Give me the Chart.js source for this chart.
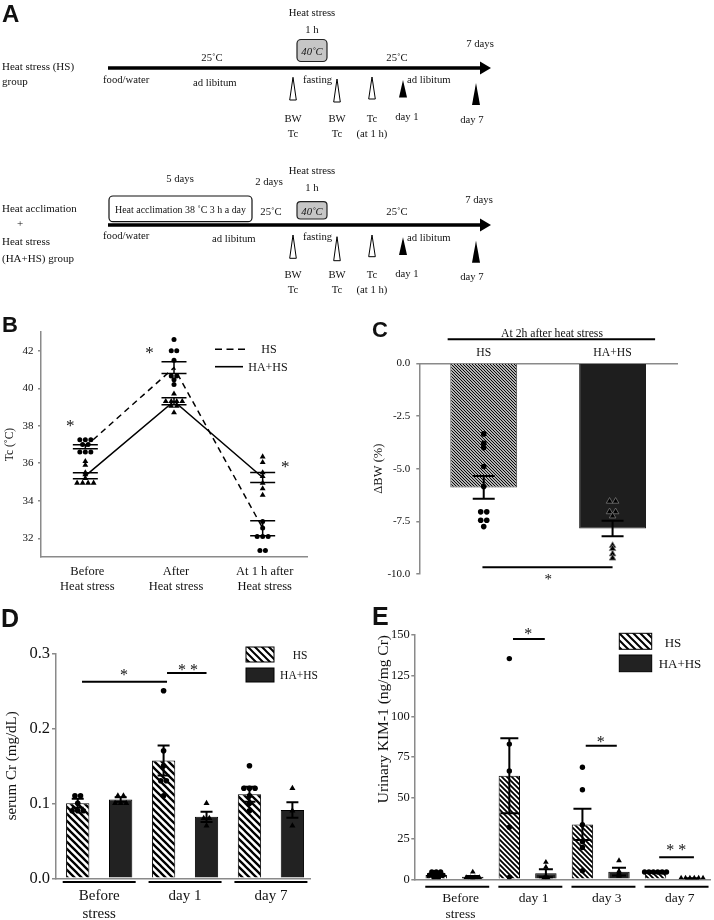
<!DOCTYPE html>
<html><head><meta charset="utf-8">
<script src="https://cdn.jsdelivr.net/npm/chart.js@4.4.1/dist/chart.umd.min.js"></script>
<style>
html,body{margin:0;padding:0;background:#fff}
body{width:714px;height:920px;position:relative;overflow:hidden}
canvas{position:absolute}
#ov{position:absolute;left:0;top:0;z-index:2;pointer-events:none}
#ov text{fill:#111}
</style></head><body>
<canvas id="cB" width="360" height="300" style="left:0;top:300px"></canvas>
<canvas id="cC" width="354" height="300" style="left:360px;top:300px"></canvas>
<canvas id="cD" width="360" height="320" style="left:0;top:600px"></canvas>
<canvas id="cE" width="354" height="320" style="left:360px;top:600px"></canvas>
<svg id="ov" width="714" height="920" xmlns="http://www.w3.org/2000/svg" font-family="'Liberation Serif', 'Times New Roman', serif" font-size="10.7">
<defs>
<pattern id="hD" width="7" height="7" patternUnits="userSpaceOnUse"><rect width="7" height="7" fill="#fff"/><path d="M-1,-1 L8,8 M-1,6 L1,8 M6,-1 L8,1" stroke="#000" stroke-width="2"/></pattern>
</defs>
<g font-family="'Liberation Sans', Arial, sans-serif" font-weight="bold">
<text x="2" y="22" font-size="24">A</text>
<text x="2" y="332" font-size="22">B</text>
<text x="372" y="337" font-size="22">C</text>
<text x="1" y="627" font-size="25">D</text>
<text x="372" y="625" font-size="25">E</text>
</g>
<g>
<text x="2" y="70" font-size="11">Heat stress (HS)</text>
<text x="2" y="85" font-size="11">group</text>
<text x="312" y="16" text-anchor="middle">Heat stress</text>
<text x="312" y="33" text-anchor="middle">1 h</text>
<rect x="297" y="39.5" width="30" height="22" rx="4" fill="#c6c6c6" stroke="#222" stroke-width="1.2"/>
<text x="312" y="55" text-anchor="middle" font-style="italic">40˚C</text>
<text x="212" y="61" text-anchor="middle">25˚C</text>
<text x="397" y="61" text-anchor="middle">25˚C</text>
<text x="480" y="47" text-anchor="middle">7 days</text>
<line x1="108" y1="68" x2="482" y2="68" stroke="#000" stroke-width="3.5"/>
<polygon points="480,61.5 491,68 480,74.5" fill="#000"/>
<text x="103" y="83">food/water</text>
<text x="193" y="85.5">ad libitum</text>
<text x="303" y="82.5">fasting</text>
<text x="407" y="82.5">ad libitum</text>
<polygon points="293,77.3 289.7,100 296.3,100" fill="#fff" stroke="#000" stroke-width="1"/>
<polygon points="337,79 333.7,102 340.3,102" fill="#fff" stroke="#000" stroke-width="1"/>
<polygon points="372,77 368.7,99 375.3,99" fill="#fff" stroke="#000" stroke-width="1"/>
<polygon points="403,80 399,97.5 407,97.5" fill="#000"/>
<polygon points="476,83 472,105 480,105" fill="#000"/>
<text x="293" y="121.7" text-anchor="middle">BW</text>
<text x="293" y="136.7" text-anchor="middle">Tc</text>
<text x="337" y="121.7" text-anchor="middle">BW</text>
<text x="337" y="136.7" text-anchor="middle">Tc</text>
<text x="372" y="121.7" text-anchor="middle">Tc</text>
<text x="372" y="136.7" text-anchor="middle">(at 1 h)</text>
<text x="407" y="120" text-anchor="middle">day 1</text>
<text x="472" y="123" text-anchor="middle">day 7</text>
</g>
<g>
<text x="2" y="211.7" font-size="11">Heat acclimation</text>
<text x="20" y="226.7" font-size="11" text-anchor="middle">+</text>
<text x="2" y="245" font-size="11">Heat stress</text>
<text x="2" y="261.7" font-size="11">(HA+HS) group</text>
<text x="180" y="181.7" text-anchor="middle">5 days</text>
<text x="269" y="185" text-anchor="middle">2 days</text>
<text x="312" y="174" text-anchor="middle">Heat stress</text>
<text x="312" y="190.7" text-anchor="middle">1 h</text>
<rect x="109" y="196" width="143" height="25.7" rx="4" fill="#fff" stroke="#111" stroke-width="1.2"/>
<text x="115" y="213.3" textLength="131" lengthAdjust="spacingAndGlyphs">Heat acclimation 38 ˚C 3 h a day</text>
<text x="271" y="215" text-anchor="middle">25˚C</text>
<rect x="297" y="201.7" width="30" height="17.3" rx="3.5" fill="#c6c6c6" stroke="#222" stroke-width="1.2"/>
<text x="312" y="214.5" text-anchor="middle" font-style="italic">40˚C</text>
<text x="397" y="215" text-anchor="middle">25˚C</text>
<text x="479" y="203.3" text-anchor="middle">7 days</text>
<line x1="108" y1="225" x2="482" y2="225" stroke="#000" stroke-width="3.5"/>
<polygon points="480,218.5 491,225 480,231.5" fill="#000"/>
<text x="103" y="239">food/water</text>
<text x="212" y="241.7">ad libitum</text>
<text x="303" y="240">fasting</text>
<text x="407" y="240.7">ad libitum</text>
<polygon points="293,235 289.7,258.3 296.3,258.3" fill="#fff" stroke="#000" stroke-width="1"/>
<polygon points="337,236.7 333.7,260.7 340.3,260.7" fill="#fff" stroke="#000" stroke-width="1"/>
<polygon points="372,235 368.7,256.7 375.3,256.7" fill="#fff" stroke="#000" stroke-width="1"/>
<polygon points="403,237.3 399,255 407,255" fill="#000"/>
<polygon points="476,240.7 472,262.7 480,262.7" fill="#000"/>
<text x="293" y="278.3" text-anchor="middle">BW</text>
<text x="293" y="293.3" text-anchor="middle">Tc</text>
<text x="337" y="278.3" text-anchor="middle">BW</text>
<text x="337" y="293.3" text-anchor="middle">Tc</text>
<text x="372" y="278.3" text-anchor="middle">Tc</text>
<text x="372" y="293.3" text-anchor="middle">(at 1 h)</text>
<text x="407" y="276.7" text-anchor="middle">day 1</text>
<text x="472" y="280" text-anchor="middle">day 7</text>
</g>
<line x1="215" y1="349.3" x2="245" y2="349.3" stroke="#000" stroke-width="1.6" stroke-dasharray="7 4.5"/>
<text x="269" y="353.3" text-anchor="middle" font-size="12">HS</text>
<line x1="215" y1="366.7" x2="243" y2="366.7" stroke="#000" stroke-width="1.6"/>
<text x="268" y="371" text-anchor="middle" font-size="12">HA+HS</text>
<rect x="246" y="647" width="28" height="15" fill="url(#hD)" stroke="#000" stroke-width="1"/>
<text x="300" y="659" text-anchor="middle" font-size="11.5">HS</text>
<rect x="246" y="668" width="28" height="14" fill="#222" stroke="#000" stroke-width="1"/>
<text x="299" y="679" text-anchor="middle" font-size="11.5">HA+HS</text>
<rect x="619.3" y="633.3" width="32.4" height="16" fill="url(#hD)" stroke="#000" stroke-width="1"/>
<text x="673" y="647" text-anchor="middle" font-size="13">HS</text>
<rect x="619.3" y="655" width="32.4" height="16.7" fill="#222" stroke="#000" stroke-width="1"/>
<text x="680" y="667.5" text-anchor="middle" font-size="13">HA+HS</text>
</svg>
<script>
// ---------------- DATA ----------------
// Panel B: core temperature (°C)
const catsB = [['Before', 'Heat stress'], ['After', 'Heat stress'], ['At 1 h after', 'Heat stress']];
const ticksB = [32, 34, 36, 38, 40, 42];
const hsMeanB = [36.88, 41.10, 32.54];
const hsSemB = [0.11, 0.31, 0.40];
const haMeanB = [35.33, 39.31, 35.24];
const haSemB = [0.16, 0.19, 0.27];
const hsPtsB = [
  [37.25, 37.25, 37.25, 37.0, 37.0, 36.6, 36.6, 36.6],
  [42.6, 42.0, 42.0, 41.5, 40.65, 40.65, 40.45, 40.2],
  [32.9, 32.55, 32.1, 32.1, 32.1, 31.35, 31.35]
];
const haPtsB = [
  [36.1, 35.9, 35.5, 35.4, 35.2, 34.95, 34.95, 34.95, 34.95],
  [39.7, 39.3, 39.3, 39.3, 39.3, 39.05, 39.05, 38.7],
  [36.35, 36.05, 35.5, 35.3, 34.95, 34.65, 34.3]
];
const starsB = [{x: -0.17, y: 38.1, text: '*'}, {x: 0.725, y: 42.03, text: '*'}, {x: 2.255, y: 35.92, text: '*'}];

// Panel C: ΔBW (%)
const catsC = ['HS', 'HA+HS'];
const ticksC = [-10, -7.5, -5, -2.5, 0];
const meanC = [-5.89, -7.84];
const semC = [0.54, 0.37];
const hsPtsC = [-3.35, -3.8, -4.0, -4.9, -5.85, -7.05, -7.05, -7.45, -7.45, -7.75];
const haPtsC = [-6.55, -6.55, -7.05, -7.05, -7.25, -8.65, -8.8, -9.05, -9.25];

// Panel D: serum Cr (mg/dL)
const catsD = [['Before', 'stress'], 'day 1', 'day 7'];
const ticksD = [0, 0.1, 0.2, 0.3];
const hsMeanD = [0.100, 0.157, 0.112];
const hsSemD = [0.006, 0.020, 0.010];
const haMeanD = [0.105, 0.082, 0.091];
const haSemD = [0.003, 0.0068, 0.0104];
const hsPtsD = [
  [0.11, 0.11, 0.10, 0.09, 0.09, 0.09],
  [0.25, 0.17, 0.15, 0.13, 0.13, 0.11],
  [0.15, 0.12, 0.12, 0.12, 0.11, 0.10, 0.09]
];
const haPtsD = [
  [0.11, 0.11, 0.10, 0.10, 0.10],
  [0.10, 0.08, 0.08, 0.07],
  [0.12, 0.09, 0.07]
];

// Panel E: urinary KIM-1 (ng/mg Cr)
const catsE = [['Before', 'stress'], 'day 1', 'day 3', 'day 7'];
const ticksE = [0, 25, 50, 75, 100, 125, 150];
const hsMeanE = [2.6, 63.6, 33.7, 4.3];
const hsSemE = [0.6, 23.0, 9.6, 0.3];
const haMeanE = [1.5, 3.7, 4.7, 0.6];
const haSemE = [0.6, 2.4, 2.4, 0.1];
const hsPtsE = [
  [4.5, 4.5, 4.5, 2.5, 2.5, 2.5, 2.5, 1, 1],
  [135.5, 83, 66.5, 32, 1.2],
  [68.8, 55, 33.5, 23, 19.5, 5.3],
  [4.5, 4.5, 4.5, 4.5, 4.5, 4.5]
];
const haPtsE = [
  [4.5, 1, 1, 1, 1, 0.5],
  [10.5, 7.5, 2, 1, 0.5, 0.5],
  [11.5, 5, 4, 3, 2.5, 2],
  [0.8, 0.8, 0.8, 0.8, 0.8, 0.8]
];

// ---------------- HELPERS ----------------
const FONT = '"Liberation Serif", "Times New Roman", serif';
Chart.defaults.font.family = FONT;
Chart.defaults.color = '#111';
const AX = '#8a8a8a';

function swarm(vals, center, step) {
  const bins = new Map();
  vals.forEach(v => { const k = v.toFixed(4); if (!bins.has(k)) bins.set(k, []); bins.get(k).push(v); });
  const out = [];
  bins.forEach(list => list.forEach((v, k) => out.push({x: center + (k - (list.length - 1) / 2) * step, y: v})));
  return out;
}
function hatch(ctx, p, lw) {
  const c = document.createElement('canvas'); c.width = c.height = p;
  const g = c.getContext('2d');
  g.fillStyle = '#fff'; g.fillRect(0, 0, p, p);
  g.strokeStyle = '#000'; g.lineWidth = lw;
  g.beginPath();
  g.moveTo(-1, -1); g.lineTo(p + 1, p + 1);
  g.moveTo(-1, p - 1); g.lineTo(1, p + 1);
  g.moveTo(p - 1, -1); g.lineTo(p + 1, 1);
  g.stroke();
  return ctx.createPattern(c, 'repeat');
}
const overlay = {
  id: 'overlay',
  afterDatasetsDraw(chart, args, o) {
    const {ctx, chartArea} = chart; const x = chart.scales.x, y = chart.scales.y;
    ctx.save(); ctx.strokeStyle = '#000'; ctx.fillStyle = '#111';
    (o.err || []).forEach(e => {
      ctx.lineWidth = e.lw;
      e.mean.forEach((m, i) => {
        const px = x.getPixelForValue(e.xs[i]);
        const a = y.getPixelForValue(m + e.sem[i]), b = y.getPixelForValue(m - e.sem[i]);
        ctx.beginPath();
        ctx.moveTo(px, a); ctx.lineTo(px, b);
        ctx.moveTo(px - e.cap, a); ctx.lineTo(px + e.cap, a);
        ctx.moveTo(px - e.cap, b); ctx.lineTo(px + e.cap, b);
        ctx.stroke();
      });
    });
    (o.lines || []).forEach(l => {
      ctx.lineWidth = l.lw || 2;
      const py = l.dy !== undefined ? chartArea.bottom + l.dy : y.getPixelForValue(l.y);
      ctx.beginPath(); ctx.moveTo(x.getPixelForValue(l.x0), py); ctx.lineTo(x.getPixelForValue(l.x1), py); ctx.stroke();
    });
    (o.texts || []).forEach(t => {
      ctx.font = t.font || ('16px ' + FONT); ctx.textAlign = 'center'; ctx.textBaseline = 'alphabetic';
      const m = ctx.measureText(t.text);
      const px = x.getPixelForValue(t.x), py = y.getPixelForValue(t.y);
      ctx.fillText(t.text, px, py + (m.actualBoundingBoxAscent - m.actualBoundingBoxDescent) / 2);
    });
    ctx.restore();
  }
};
function yAxis(o) {
  return {
    min: o.min, max: o.max,
    afterBuildTicks: a => { a.ticks = o.ticks.map(v => ({value: v})); },
    afterFit: s => { s.width = o.width; },
    grid: {drawOnChartArea: false, drawTicks: true, tickLength: o.tl, color: AX, lineWidth: 1.5},
    border: {display: true, color: AX, width: 1.5},
    ticks: {font: {size: o.fs}, color: '#111', padding: o.pad, callback: o.cb || (v => v)},
    title: {display: true, text: o.title, align: o.talign || 'center', font: {size: o.tfs}, color: '#111', padding: {top: o.tpad, bottom: 0}}
  };
}
function xAxis(o) {
  return {
    type: 'linear', offset: false, min: o.min, max: o.max, position: o.pos || 'bottom',
    afterBuildTicks: a => { a.ticks = o.ticks.map(v => ({value: v})); },
    afterFit: s => { s.height = o.height; },
    grid: {display: false, drawTicks: false, offset: false},
    border: {display: true, color: AX, width: 1.5},
    ticks: {font: {size: o.fs, lineHeight: 1.2}, color: '#111', padding: o.pad, maxRotation: 0, autoSkip: false,
      labelOffset: o.lo || 0, callback: (v, i) => o.labels[i]}
  };
}
const base = {responsive: false, animation: false, events: []};

// ---------------- PANEL B ----------------
new Chart(document.getElementById('cB'), {
  type: 'scatter',
  data: {datasets: [
    {type: 'line', data: hsMeanB.map((m, i) => ({x: i, y: m})), borderColor: '#000', borderWidth: 1.5, borderDash: [6, 4.5], pointRadius: 0, order: 3},
    {type: 'line', data: haMeanB.map((m, i) => ({x: i, y: m})), borderColor: '#000', borderWidth: 1.5, pointRadius: 0, order: 3},
    {data: hsPtsB.flatMap((v, i) => swarm(v, i, 0.062)), pointStyle: 'circle', pointRadius: 2.5, backgroundColor: '#000', borderWidth: 0, order: 1},
    {data: haPtsB.flatMap((v, i) => swarm(v, i, 0.062)), pointStyle: 'triangle', pointRadius: 3.4, backgroundColor: '#000', borderWidth: 0, order: 2}
  ]},
  options: {...base,
    layout: {padding: {left: 0, top: 32, right: 53, bottom: 0}},
    plugins: {legend: {display: false}, tooltip: {enabled: false},
      overlay: {
        err: [{xs: [0, 1, 2], mean: hsMeanB, sem: hsSemB, cap: 12.5, lw: 1.5}, {xs: [0, 1, 2], mean: haMeanB, sem: haSemB, cap: 12.5, lw: 1.5}],
        texts: starsB.map(s => ({...s, font: '17px ' + FONT}))
      }},
    scales: {
      x: xAxis({min: -0.5, max: 2.5, ticks: [0, 1, 2], labels: catsB, height: 43, fs: 12.5, pad: 7.5, lo: 2}),
      y: yAxis({min: 31, max: 43, ticks: ticksB, width: 41, tl: 3, fs: 11, pad: 4.5, title: 'Tc (˚C)', tfs: 11.5, tpad: 3})
    }
  },
  plugins: [overlay]
});

// ---------------- PANEL C ----------------
(function () {
  const cv = document.getElementById('cC');
  const pat = hatch(cv.getContext('2d'), 3, 1.15);
  new Chart(cv, {
    type: 'bar',
    data: {datasets: [
      {type: 'bar', data: meanC.map((m, i) => ({x: i, y: m})), backgroundColor: [pat, '#1e1e1e'], borderColor: ['#444', '#1e1e1e'], borderWidth: 1, borderSkipped: 'start', barPercentage: 0.519, categoryPercentage: 1, order: 3},
      {type: 'scatter', data: swarm(hsPtsC, 0, 0.047), pointStyle: 'circle', pointRadius: 2.8, backgroundColor: '#000', borderWidth: 0, order: 1},
      {type: 'scatter', data: swarm(haPtsC, 1, 0.047), pointStyle: 'triangle', pointRadius: 3.8, backgroundColor: '#000', borderColor: '#777', borderWidth: 0.8, order: 1}
    ]},
    options: {...base,
      layout: {padding: {left: 0, top: 0, right: 37, bottom: 26}},
      plugins: {legend: {display: false}, tooltip: {enabled: false},
        overlay: {
          err: [{xs: [0, 1], mean: meanC, sem: semC, cap: 11, lw: 2}],
          lines: [{x0: -0.28, x1: 1.33, y: 1.14, lw: 2}, {x0: -0.01, x1: 1.0, y: -9.68, lw: 2}],
          texts: [{x: 0.53, y: 1.44, text: 'At 2h after heat stress', font: '11.7px ' + FONT}, {x: 0.5, y: -10.14, text: '*', font: '15px ' + FONT}]
        }},
      scales: {
        x: xAxis({min: -0.5, max: 1.5, pos: 'top', ticks: [0, 1], labels: catsC, height: 63.3, fs: 11.7, pad: 3.3}),
        y: yAxis({min: -10, max: 0, ticks: ticksC, width: 59.3, tl: 3, fs: 11, pad: 6, cb: v => v.toFixed(1), title: 'ΔBW (%)', tfs: 12.5, tpad: 11})
      }
    },
    plugins: [overlay]
  });
})();

// ---------------- PANEL D ----------------
(function () {
  const cv = document.getElementById('cD');
  const pat = hatch(cv.getContext('2d'), 7, 2.3);
  const bars = [], cols = [];
  hsMeanD.forEach((m, i) => { bars.push({x: 2 * i, y: m}); cols.push(pat); bars.push({x: 2 * i + 1, y: haMeanD[i]}); cols.push('#222'); });
  new Chart(cv, {
    type: 'bar',
    data: {datasets: [
      {type: 'bar', data: bars, backgroundColor: cols, borderColor: '#000', borderWidth: 1, barPercentage: 0.543, categoryPercentage: 1, order: 3},
      {type: 'scatter', data: hsPtsD.flatMap((v, i) => swarm(v, 2 * i, 0.13)), pointStyle: 'circle', pointRadius: 2.8, backgroundColor: '#000', borderWidth: 0, order: 1},
      {type: 'scatter', data: haPtsD.flatMap((v, i) => swarm(v, 2 * i + 1, 0.13)), pointStyle: 'triangle', pointRadius: 3.5, backgroundColor: '#000', borderWidth: 0, order: 1}
    ]},
    options: {...base,
      layout: {padding: {left: 0, top: 53.3, right: 50, bottom: 0}},
      plugins: {legend: {display: false}, tooltip: {enabled: false},
        overlay: {
          err: [{xs: [0, 2, 4], mean: hsMeanD, sem: hsSemD, cap: 6, lw: 2}, {xs: [1, 3, 5], mean: haMeanD, sem: haSemD, cap: 6, lw: 2}],
          lines: [{x0: 0.1, x1: 2.08, y: 0.262}, {x0: 2.08, x1: 3.0, y: 0.2737},
            {x0: -0.35, x1: 1.35, dy: 3.6}, {x0: 1.65, x1: 3.35, dy: 3.6}, {x0: 3.65, x1: 5.35, dy: 3.6}],
          texts: [{x: 1.08, y: 0.275, text: '*'}, {x: 2.57, y: 0.2817, text: '* *'}]
        }},
      scales: {
        x: xAxis({min: -0.506, max: 5.41, ticks: [0.5, 2.5, 4.5], labels: catsD, height: 41.7, fs: 15, pad: 8.5}),
        y: yAxis({min: 0, max: 0.3, ticks: ticksD, width: 56, tl: 4, fs: 16.5, pad: 2, cb: v => v.toFixed(1), title: 'serum Cr (mg/dL)', tfs: 15, tpad: 3})
      }
    },
    plugins: [overlay]
  });
})();

// ---------------- PANEL E ----------------
(function () {
  const cv = document.getElementById('cE');
  const pat = hatch(cv.getContext('2d'), 5, 1.8);
  const bars = [], cols = [];
  hsMeanE.forEach((m, i) => { bars.push({x: 2 * i, y: m}); cols.push(pat); bars.push({x: 2 * i + 1, y: haMeanE[i]}); cols.push('#222'); });
  new Chart(cv, {
    type: 'bar',
    data: {datasets: [
      {type: 'bar', data: bars, backgroundColor: cols, borderColor: '#000', borderWidth: 1, barPercentage: 0.585, categoryPercentage: 1, order: 3},
      {type: 'scatter', data: hsPtsE.flatMap((v, i) => swarm(v, 2 * i, 0.12)), pointStyle: 'circle', pointRadius: 2.7, backgroundColor: '#000', borderWidth: 0, order: 1},
      {type: 'scatter', data: haPtsE.flatMap((v, i) => swarm(v, 2 * i + 1, 0.12)), pointStyle: 'triangle', pointRadius: 3.3, backgroundColor: '#000', borderWidth: 0, order: 1}
    ]},
    options: {...base,
      layout: {padding: {left: 0, top: 35, right: 0, bottom: 0}},
      plugins: {legend: {display: false}, tooltip: {enabled: false},
        overlay: {
          err: [{xs: [0, 2, 4, 6], mean: hsMeanE, sem: hsSemE, cap: 9, lw: 2}, {xs: [1, 3, 5, 7], mean: haMeanE, sem: haSemE, cap: 7, lw: 2}],
          lines: [{x0: 2.1, x1: 2.97, y: 147.6}, {x0: 4.09, x1: 4.94, y: 82}, {x0: 6.1, x1: 7.05, y: 13.5},
            {x0: -0.3, x1: 1.45, dy: 7.4}, {x0: 1.7, x1: 3.45, dy: 7.4}, {x0: 3.7, x1: 5.45, dy: 7.4}, {x0: 5.7, x1: 7.45, dy: 7.4}],
          texts: [{x: 2.52, y: 152.3, text: '*'}, {x: 4.5, y: 85.7, text: '*'}, {x: 6.57, y: 19.7, text: '* *'}]
        }},
      scales: {
        x: xAxis({min: -0.6, max: 7.49, ticks: [0.5, 2.5, 4.5, 6.5], labels: catsE, height: 40.7, fs: 13.5, pad: 11, lo: 6}),
        y: yAxis({min: 0, max: 150, ticks: ticksE, width: 54.3, tl: 3, fs: 12.5, pad: 1.5, title: 'Urinary KIM-1 (ng/mg Cr)', talign: 'end', tfs: 15.5, tpad: 15})
      }
    },
    plugins: [overlay]
  });
})();
</script>
</body></html>
